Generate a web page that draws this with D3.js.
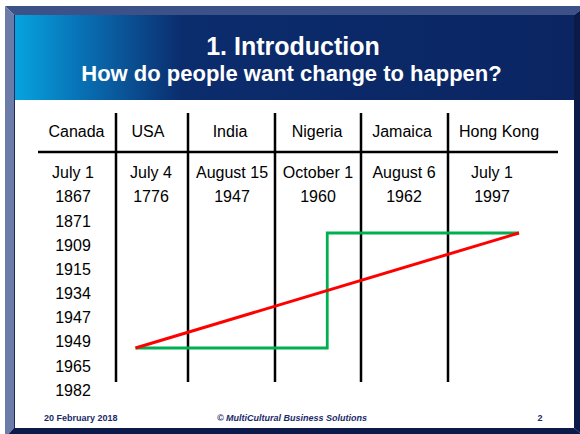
<!DOCTYPE html>
<html>
<head>
<meta charset="utf-8">
<script src="https://cdn.jsdelivr.net/npm/d3@7"></script>
<style>
  body { margin: 0; background: #fff; }
  svg { display: block; }
  text { font-family: "Liberation Sans", Arial, sans-serif; }
</style>
</head>
<body>
<div id="slide"></div>
<script>
// slide data
const countries = ["Canada", "USA", "India", "Nigeria", "Jamaica", "Hong Kong"];
const dayLabels = ["July 1", "July 4", "August 15", "October 1", "August 6", "July 1"];
const yearLabels = ["1867", "1776", "1947", "1960", "1962", "1997"];
const canadaMore = ["1871", "1909", "1915", "1934", "1947", "1949", "1965", "1982"];

// two ways of change: progress (0..1) against time (0..1)
const gradual = [[0, 0], [1, 1]];
const sudden = [[0, 0], [0.5, 0], [0.5, 1], [1, 1]];

const width = 580, height = 434;

// table layout
const colEdges = [116, 188, 275, 361, 448];
const headX = [76.5, 148, 230, 317, 402, 499];
const cellX = [73, 151, 232, 318, 404, 492];

let svg = d3.select("#slide")
    .append("svg")
    .attr("width", width)
    .attr("height", height);

let defs = svg.append("defs");
let grad = defs.append("linearGradient")
    .attr("id", "hdr")
    .attr("x1", "0%").attr("x2", "100%");
grad.append("stop").attr("offset", "0%").attr("stop-color", "#06a4df");
grad.append("stop").attr("offset", "12%").attr("stop-color", "#0870b4");
grad.append("stop").attr("offset", "30%").attr("stop-color", "#0b2c6d");
grad.append("stop").attr("offset", "100%").attr("stop-color", "#0b2562");

// frame bevels
svg.append("polygon").attr("points", "5,6 586,6 574,15 14,15").attr("fill", "#3b5188");
svg.append("polygon").attr("points", "5,6 14,15 14,428 5,438").attr("fill", "#6c7ca8");
svg.append("polygon").attr("points", "586,6 574,15 574,428 586,438").attr("fill", "#0b1a48");
svg.append("polygon").attr("points", "5,438 14,428 574,428 586,438").attr("fill", "#0b1a48");
svg.append("rect").attr("x", 14).attr("y", 15).attr("width", 560).attr("height", 413).attr("fill", "#fff");
svg.append("line").attr("x1", 14.5).attr("x2", 14.5).attr("y1", 15).attr("y2", 428)
    .attr("stroke", "#1c2b5c").attr("stroke-width", 1);

// header band
svg.append("rect").attr("x", 15).attr("y", 15).attr("width", 559).attr("height", 85)
    .attr("fill", "url(#hdr)");

svg.append("text")
    .attr("x", 293).attr("y", 54.5)
    .attr("text-anchor", "middle")
    .attr("fill", "#fff")
    .style("font-size", "25px").style("font-weight", "bold")
    .text("1. Introduction");

svg.append("text")
    .attr("x", 291.5).attr("y", 80.5)
    .attr("text-anchor", "middle")
    .attr("fill", "#fff")
    .style("font-size", "22px").style("font-weight", "bold")
    .text("How do people want change to happen?");

// table grid
let grid = svg.append("g").attr("stroke", "#000").attr("stroke-width", 2.5);

grid.append("line")
    .attr("x1", 38).attr("x2", 558)
    .attr("y1", 152).attr("y2", 152);

grid.selectAll(".vline")
    .data(colEdges)
    .enter()
    .append("line")
    .attr("class", "vline")
    .attr("x1", d => d).attr("x2", d => d)
    .attr("y1", 113).attr("y2", 382);

// header row
svg.append("g").selectAll("text")
    .data(countries)
    .enter()
    .append("text")
    .attr("x", (d, i) => headX[i])
    .attr("y", 136.5)
    .attr("text-anchor", "middle")
    .style("font-size", "16px")
    .text(d => d);

// rows
let rowY = d3.scaleLinear().domain([0, 9]).range([178.2, 395.7]);

svg.append("g").selectAll("text")
    .data(dayLabels)
    .enter()
    .append("text")
    .attr("x", (d, i) => cellX[i])
    .attr("y", rowY(0))
    .attr("text-anchor", "middle")
    .style("font-size", "16px")
    .text(d => d);

svg.append("g").selectAll("text")
    .data(yearLabels)
    .enter()
    .append("text")
    .attr("x", (d, i) => cellX[i])
    .attr("y", rowY(1))
    .attr("text-anchor", "middle")
    .style("font-size", "16px")
    .text(d => d);

svg.append("g").selectAll("text")
    .data(canadaMore)
    .enter()
    .append("text")
    .attr("x", cellX[0])
    .attr("y", (d, i) => rowY(i + 2))
    .attr("text-anchor", "middle")
    .style("font-size", "16px")
    .text(d => d);

// change lines
let x = d3.scaleLinear().domain([0, 1]).range([135.5, 519]);
let y = d3.scaleLinear().domain([0, 1]).range([348, 233]);

let line = d3.line()
    .x(d => x(d[0]))
    .y(d => y(d[1]));

svg.append("path")
    .datum(sudden)
    .attr("d", line)
    .attr("fill", "none")
    .attr("stroke", "#00b050")
    .attr("stroke-width", 2.8);

svg.append("path")
    .datum(gradual)
    .attr("d", line)
    .attr("fill", "none")
    .attr("stroke", "#ff0000")
    .attr("stroke-width", 3);

// footer
let foot = svg.append("g")
    .attr("fill", "#1b2a68")
    .style("font-size", "9px")
    .style("font-weight", "bold");

foot.append("text").attr("x", 44).attr("y", 421).text("20 February 2018");
foot.append("text").attr("x", 292).attr("y", 421)
    .attr("text-anchor", "middle")
    .style("font-style", "italic")
    .text("© MultiCultural Business Solutions");
foot.append("text").attr("x", 540).attr("y", 421)
    .attr("text-anchor", "middle")
    .text("2");
</script>
</body>
</html>
